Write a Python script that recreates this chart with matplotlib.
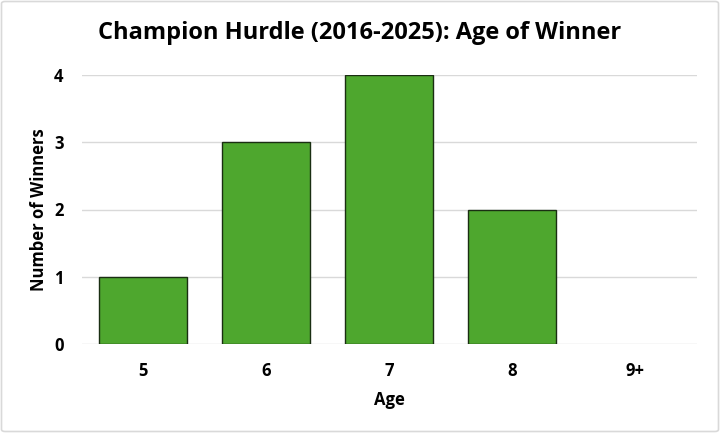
import matplotlib
matplotlib.use("Agg")
import matplotlib.pyplot as plt
from matplotlib.patches import FancyBboxPatch

categories = ["5", "6", "7", "8", "9+"]
winners = [1, 3, 4, 2, 0]
yticks = [0, 1, 2, 3, 4]

plt.rcParams['font.family'] = ['Open Sans', 'DejaVu Sans']

fig = plt.figure(figsize=(7.2, 4.33), dpi=100)
W, H = 720, 433
ax = fig.add_axes([81.5 / W, 1 - 344 / H, (696.5 - 81.5) / W, (344 - 75) / H])

x = list(range(len(categories)))
edges = ["#1a2e12" if v > 0 else "none" for v in winners]
ax.bar(x, winners, width=0.72, color="#4EA72E", edgecolor=edges, linewidth=1.0, zorder=3)
ax.set_xlim(-0.5, len(categories) - 0.5)
ax.set_ylim(0, 4)
ax.set_yticks(yticks)
ax.set_xticks(x)
ax.set_xticklabels(categories)
ax.yaxis.grid(True, color="#d9d9d9", linewidth=1, zorder=0)
for s in ax.spines.values():
    s.set_visible(False)
ax.tick_params(length=0, labelsize=12)
for lab in ax.get_xticklabels() + ax.get_yticklabels():
    lab.set_fontweight("bold")
ax.tick_params(axis="x", pad=13)
ax.tick_params(axis="y", pad=13)
ax.set_xlabel("Age", fontsize=12, fontweight="bold", labelpad=8)
ax.set_ylabel("Number of Winners", fontsize=12, fontweight="bold", labelpad=4)

fig.text(360 / W, 1 - 33 / H, "Champion Hurdle (2016-2025): Age of Winner",
         ha="center", va="center", fontsize=17, fontweight="bold")

border = FancyBboxPatch((1.5 / W, 1.5 / H), 717 / W, 430 / H, boxstyle="round,pad=0,rounding_size=0.005",
                        transform=fig.transFigure, fill=False, edgecolor="#d9d9d9", linewidth=1.2)
fig.patches.append(border)

fig.savefig("out.png", dpi=100)
